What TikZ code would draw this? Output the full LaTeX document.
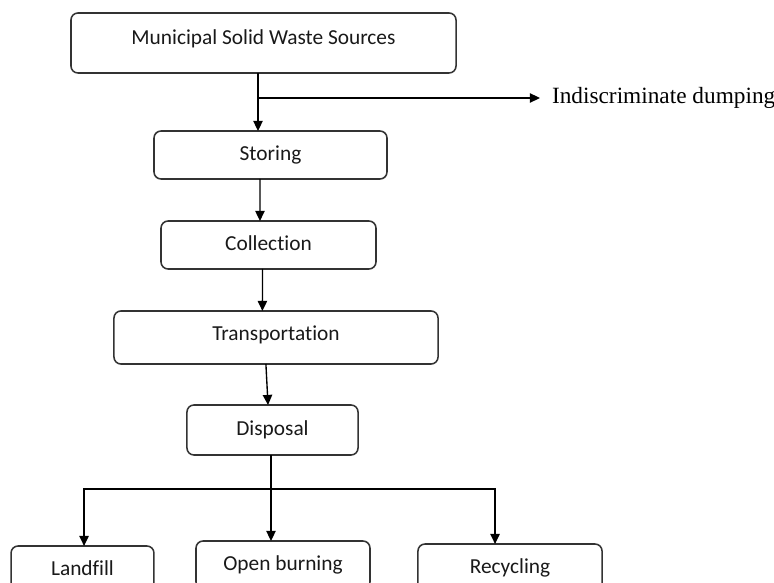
\documentclass[tikz,border=0pt]{standalone}
\usepackage{fontspec}
\setmainfont{Liberation Serif}
\newfontfamily\boxfont[Ligatures=NoCommon]{Carlito}
\usetikzlibrary{arrows.meta}

\begin{document}
\begin{tikzpicture}[>={Triangle[length=5.2pt,width=4.8pt]}, x=0.515pt, y=-0.515pt,
        procbox/.style={draw=black!80, line width=0.8pt, rounded corners=3.6pt,
            outer sep=0pt, inner sep=0pt, text=black!90,
            font=\boxfont\fontsize{11}{13}\selectfont,
            text height=7.1pt, text depth=1.5pt, minimum height=24.7pt},
        flow/.style={->, line width=0.7pt}]
        \useasboundingbox (0,0) rectangle (774,583);
        \clip (0,0) rectangle (774,583);

        % boxes
        \node[procbox, minimum width=198.3pt, minimum height=30.9pt, text depth=5.2pt] (src) at (263.5,43) {Municipal Solid Waste Sources};
        \node[procbox, minimum width=120pt] (store) at (270.5,155) {Storing};
        \node[procbox, minimum width=110.7pt] (collect) at (268.5,245) {Collection};
        \node[procbox, minimum width=166.9pt, minimum height=27.3pt, text depth=3.6pt] (transp) at (276,337.5) {Transportation};
        \node[procbox, minimum width=88.1pt, minimum height=25.75pt] (disp) at (272.5,430) {Disposal};
        \node[procbox, minimum width=73.6pt] (fill) at (82.5,570) {Landfill};
        \node[procbox, minimum width=89.6pt] (burn) at (283,565) {Open burning};
        \node[procbox, minimum width=94.8pt] (recyc) at (510,568) {Recycling};

        % side output
        \node[anchor=west, inner xsep=6pt, inner ysep=0pt, font=\fontsize{12}{14}\selectfont] (dump) at (540,98) {Indiscriminate dumping};

        % arrows
        \coordinate (fork1) at (258,98);
        \draw[flow] (src.south -| fork1) -- (store.north -| fork1);
        \draw[flow] (fork1) -- (dump.west);
        \draw[flow] ([xshift=-5.4pt]store.south) -- ([xshift=-4.4pt]collect.north);
        \draw[flow] ([xshift=-3.1pt]collect.south) -- ([xshift=-7pt]transp.north);
        \draw[flow] ([xshift=-5.2pt]transp.south) -- ([xshift=-2.3pt]disp.north);

        \coordinate (fork2) at (271,489);
        \draw[flow] (disp.south -| fork2) -- (burn.north -| fork2);
        \draw[flow] (fork2) -| ([xshift=0.8pt]fill.north);
        \draw[flow] (fork2) -| ([xshift=-7.7pt]recyc.north);
    \end{tikzpicture}
\end{document}
